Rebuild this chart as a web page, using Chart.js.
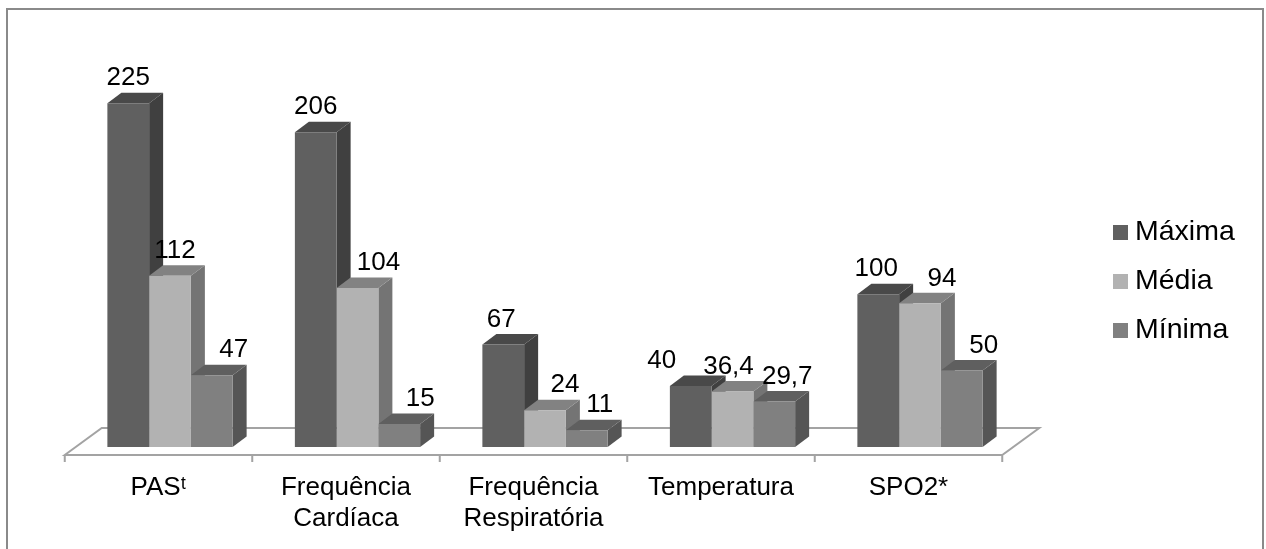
<!DOCTYPE html>
<html>
<head>
<meta charset="utf-8">
<title>Sinais vitais</title>
<script src="https://cdn.jsdelivr.net/npm/chart.js@4"></script>
<style>
  html, body { margin: 0; background: #fff; }
  canvas { display: block; }
</style>
</head>
<body>
<canvas id="grafico" width="1266" height="549"></canvas>
<script>
const categorias = ['PASᵗ', ['Frequência', 'Cardíaca'], ['Frequência', 'Respiratória'], 'Temperatura', 'SPO2*'];
const maxima = [225, 206, 67, 40, 100];
const media = [112, 104, 24, 36.4, 94];
const minima = [47, 15, 11, 29.7, 50];

const nomes = ['Máxima', 'Média', 'Mínima'];
const coresFrente = ['#606060', '#b2b2b2', '#808080'];
const coresLado = ['#404040', '#747474', '#555555'];
const coresTopo = ['#494949', '#828282', '#5f5f5f'];

// deslocamento horizontal de cada rotulo, como no original (por serie, por categoria)
const ajusteRotulo = [
  [0, 0, -2, -29, -2],
  [5, 21, 20, -4, 22],
  [22, 21, 13, 13, 22]
];

const fonte = 'Liberation Sans, Arial, sans-serif';
const profX = 14, profY = 10.5; // profundidade das barras
const chaoProfX = 37, chaoProfY = 27;
const chaoDesvio = 11.5; // o chao fica a esquerda das barras

const bordas = {
  id: 'bordas',
  beforeDraw(chart) {
    const c = chart.ctx;
    c.save();
    c.fillStyle = '#fff';
    c.fillRect(0, 0, chart.width, chart.height);
    c.strokeStyle = '#8a8a8a';
    c.lineWidth = 2;
    c.beginPath();
    c.moveTo(7, 549);
    c.lineTo(7, 9);
    c.lineTo(1263, 9);
    c.lineTo(1263, 549);
    c.stroke();
    c.restore();
  }
};

const chao = {
  id: 'chao',
  beforeDatasetsDraw(chart) {
    const c = chart.ctx, { left, right, bottom } = chart.chartArea;
    const x0 = left - chaoDesvio, x1 = right - chaoDesvio, y = bottom + 8;
    c.save();
    c.strokeStyle = '#a3a3a3';
    c.lineWidth = 2;
    c.beginPath();
    c.moveTo(x0, y);
    c.lineTo(x0 + chaoProfX, y - chaoProfY);
    c.lineTo(x1 + chaoProfX, y - chaoProfY);
    c.lineTo(x1, y);
    c.closePath();
    for (let i = 0; i <= categorias.length; i++) {
      const x = x0 + (x1 - x0) * i / categorias.length;
      c.moveTo(x, y);
      c.lineTo(x, y + 7);
    }
    c.stroke();
    c.restore();
  }
};

// lados e topos vao antes das frentes, da esquerda para a direita
const barras3d = {
  id: 'barras3d',
  beforeDatasetsDraw(chart) {
    const c = chart.ctx;
    c.save();
    chart.data.datasets.forEach((ds, i) => {
      chart.getDatasetMeta(i).data.forEach(b => {
        const dir = b.x + b.width / 2, esq = b.x - b.width / 2;
        c.fillStyle = coresLado[i];
        c.beginPath();
        c.moveTo(dir, b.y);
        c.lineTo(dir + profX, b.y - profY);
        c.lineTo(dir + profX, b.base - profY);
        c.lineTo(dir, b.base);
        c.closePath();
        c.fill();
        c.fillStyle = coresTopo[i];
        c.beginPath();
        c.moveTo(esq, b.y);
        c.lineTo(esq + profX, b.y - profY);
        c.lineTo(dir + profX, b.y - profY);
        c.lineTo(dir, b.y);
        c.closePath();
        c.fill();
      });
    });
    c.restore();
  },
  afterDatasetsDraw(chart) {
    const c = chart.ctx;
    c.save();
    c.font = '26px ' + fonte;
    c.fillStyle = '#000';
    c.textAlign = 'center';
    c.textBaseline = 'middle';
    chart.data.datasets.forEach((ds, i) => {
      chart.getDatasetMeta(i).data.forEach((b, j) => {
        const txt = String(ds.data[j]).replace('.', ',');
        c.fillText(txt, b.x + ajusteRotulo[i][j], b.y - 25);
      });
    });
    c.restore();
  }
};

const legenda = {
  id: 'legenda',
  afterDraw(chart) {
    const c = chart.ctx;
    c.save();
    c.font = '28.5px ' + fonte;
    c.textBaseline = 'middle';
    nomes.forEach((nome, i) => {
      const y = 232 + i * 49;
      c.fillStyle = coresFrente[i];
      c.fillRect(1113, y - 7, 15, 15);
      c.fillStyle = '#000';
      c.fillText(nome, 1135, y);
    });
    c.restore();
  }
};

new Chart(document.getElementById('grafico').getContext('2d'), {
  type: 'bar',
  data: {
    labels: categorias,
    datasets: [
      { label: nomes[0], data: maxima, backgroundColor: coresFrente[0] },
      { label: nomes[1], data: media, backgroundColor: coresFrente[1] },
      { label: nomes[2], data: minima, backgroundColor: coresFrente[2] }
    ]
  },
  options: {
    responsive: false,
    animation: false,
    categoryPercentage: 0.668,
    barPercentage: 1,
    layout: { padding: { left: 76.25, right: 252.25, top: 65, bottom: 0 } },
    plugins: { legend: { display: false }, tooltip: { enabled: false } },
    scales: {
      y: { display: false, min: 0, max: 250 },
      x: {
        afterFit: s => { s.height = 102; },
        grid: { display: false, drawTicks: false },
        border: { display: false },
        ticks: {
          color: '#000',
          autoSkip: false,
          maxRotation: 0,
          padding: 25,
          labelOffset: -chaoDesvio,
          font: { family: fonte, size: 26, lineHeight: 1.19 }
        }
      }
    }
  },
  plugins: [bordas, chao, barras3d, legenda]
});
</script>
</body>
</html>
